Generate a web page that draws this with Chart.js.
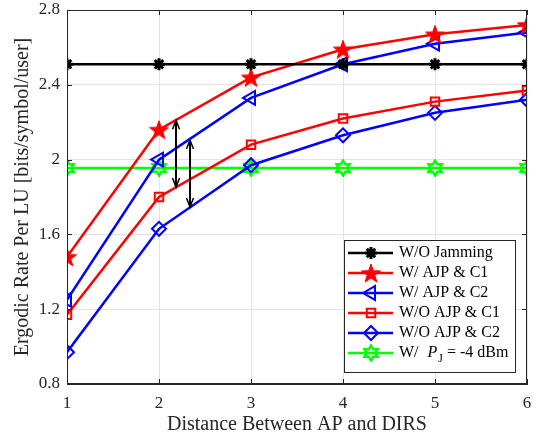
<!DOCTYPE html>
<html>
<head>
<meta charset="utf-8">
<script src="https://cdn.jsdelivr.net/npm/chart.js@4.4.1/dist/chart.umd.min.js"></script>
<style>
html,body{margin:0;padding:0;background:#fff;}
#wrap{width:539px;height:441px;}
</style>
</head>
<body>
<div id="wrap"><canvas id="c" width="539" height="441"></canvas></div>
<script>
// ---- data ----
const distances = [1, 2, 3, 4, 5, 6];
const woJamming = [2.51, 2.51, 2.51, 2.51, 2.51, 2.51];
const wAjpC1 = [1.48, 2.16, 2.44, 2.59, 2.67, 2.72];
const wAjpC2 = [1.25, 2.00, 2.33, 2.51, 2.62, 2.68];
const woAjpC1 = [1.17, 1.80, 2.08, 2.22, 2.31, 2.37];
const woAjpC2 = [0.97, 1.63, 1.97, 2.13, 2.25, 2.32];
const wPj = [1.955, 1.955, 1.955, 1.955, 1.955, 1.955];
const yTicks = [0.8, 1.2, 1.6, 2.0, 2.4, 2.8];
const xTicks = [1, 2, 3, 4, 5, 6];
const seriesLabels = ['W/O Jamming', 'W/ AJP & C1', 'W/ AJP & C2', 'W/O AJP & C1', 'W/O AJP & C2', 'W/  P_J = -4 dBm'];
// double arrows (x, top, bottom)
const arrowX = [2.185, 2.337];
const arrowTop = [2.21, 2.105];
const arrowBottom = [1.853, 1.747];

const FONT = "'Liberation Serif', 'Times New Roman', serif";
const TXT = '#262626';

function makeCanvas(size, draw) {
  const c = document.createElement('canvas');
  c.width = size; c.height = size;
  const g = c.getContext('2d');
  draw(g, size);
  return c;
}
const pentagram = makeCanvas(22, (g, s) => {
  const cx = s / 2, cy = s / 2 + 1, R = 10, r = 4;
  g.beginPath();
  for (let i = 0; i < 10; i++) {
    const rad = i % 2 === 0 ? R : r;
    const a = -Math.PI / 2 + i * Math.PI / 5;
    const x = cx + rad * Math.cos(a), y = cy + rad * Math.sin(a);
    i === 0 ? g.moveTo(x, y) : g.lineTo(x, y);
  }
  g.closePath();
  g.fillStyle = '#ff0000'; g.fill();
  g.strokeStyle = '#ff0000'; g.lineWidth = 1; g.stroke();
});
const hexagram = makeCanvas(18, (g, s) => {
  const cx = s / 2, cy = s / 2, R = 7.5, r = 4.33;
  g.beginPath();
  for (let i = 0; i < 12; i++) {
    const rad = i % 2 === 0 ? R : r;
    const a = -Math.PI / 2 + i * Math.PI / 6;
    const x = cx + rad * Math.cos(a), y = cy + rad * Math.sin(a);
    i === 0 ? g.moveTo(x, y) : g.lineTo(x, y);
  }
  g.closePath();
  g.strokeStyle = '#00ff00'; g.lineWidth = 2.5; g.stroke();
});

function pts(arr) { return distances.map((d, i) => ({ x: d, y: arr[i] })); }

const datasets = [
  { label: seriesLabels[0], data: pts(woJamming), borderColor: '#000000', backgroundColor: '#000000',
    pointStyle: 'star', pointRadius: 6, pointBorderWidth: 3, pointBorderColor: '#000', borderWidth: 2.5 },
  { label: seriesLabels[1], data: pts(wAjpC1), borderColor: '#ff0000', backgroundColor: '#ff0000',
    pointStyle: pentagram, borderWidth: 2.5 },
  { label: seriesLabels[2], data: pts(wAjpC2), borderColor: '#0000ff', backgroundColor: 'rgba(0,0,0,0)',
    pointStyle: 'triangle', pointRotation: -90, pointRadius: 8, pointBorderWidth: 2, pointBorderColor: '#0000ff', borderWidth: 2.5 },
  { label: seriesLabels[3], data: pts(woAjpC1), borderColor: '#ff0000', backgroundColor: 'rgba(0,0,0,0)',
    pointStyle: 'rect', pointRadius: 6, pointBorderWidth: 2, pointBorderColor: '#ff0000', borderWidth: 2.5 },
  { label: seriesLabels[4], data: pts(woAjpC2), borderColor: '#0000ff', backgroundColor: 'rgba(0,0,0,0)',
    pointStyle: 'rectRot', pointRadius: 7, pointBorderWidth: 2, pointBorderColor: '#0000ff', borderWidth: 2.5 },
  { label: seriesLabels[5], data: pts(wPj), borderColor: '#00ff00', backgroundColor: 'rgba(0,0,0,0)',
    pointStyle: hexagram, borderWidth: 2.5 }
];
datasets.forEach(d => { d.fill = false; d.tension = 0; d.pointHoverRadius = d.pointRadius; });

const framePlugin = {
  id: 'frame',
  afterDatasetsDraw(chart) {
    const { ctx, chartArea: a, scales: { x, y } } = chart;
    ctx.save();
    // arrows
    ctx.strokeStyle = '#000'; ctx.fillStyle = '#000'; ctx.lineWidth = 2;
    for (let i = 0; i < arrowX.length; i++) {
      const px = x.getPixelForValue(arrowX[i]);
      const t = y.getPixelForValue(arrowTop[i]);
      const b = y.getPixelForValue(arrowBottom[i]);
      ctx.beginPath(); ctx.moveTo(px, t + 1); ctx.lineTo(px, b - 1); ctx.stroke();
      ctx.lineWidth = 1.5;
      ctx.beginPath(); ctx.moveTo(px - 3.5, t + 9); ctx.lineTo(px, t); ctx.lineTo(px + 3.5, t + 9); ctx.stroke();
      ctx.beginPath(); ctx.moveTo(px - 3.5, b - 9); ctx.lineTo(px, b); ctx.lineTo(px + 3.5, b - 9); ctx.stroke();
      ctx.lineWidth = 2;
    }
    // frame
    ctx.strokeStyle = TXT; ctx.lineWidth = 1;
    ctx.strokeRect(Math.round(a.left) + 0.5, Math.round(a.top) + 0.5, Math.round(a.right - a.left) - 1, Math.round(a.bottom - a.top) - 1);
    // inward ticks
    const L = 5;
    xTicks.forEach(v => {
      const px = Math.round(x.getPixelForValue(v)) + 0.5;
      ctx.beginPath();
      ctx.moveTo(px, a.bottom); ctx.lineTo(px, a.bottom - L);
      ctx.moveTo(px, a.top); ctx.lineTo(px, a.top + L);
      ctx.stroke();
    });
    yTicks.forEach(v => {
      const py = Math.round(y.getPixelForValue(v)) + 0.5;
      ctx.beginPath();
      ctx.moveTo(a.left, py); ctx.lineTo(a.left + L, py);
      ctx.moveTo(a.right, py); ctx.lineTo(a.right - L, py);
      ctx.stroke();
    });
    // legend
    const bx = a.right - 183, by = a.bottom - 144, bw = 171, bh = 132;
    ctx.fillStyle = '#fff';
    ctx.fillRect(bx, by, bw, bh);
    ctx.strokeStyle = TXT; ctx.lineWidth = 1;
    ctx.strokeRect(bx + 0.5, by + 0.5, bw, bh);
    chart.data.datasets.forEach((ds, i) => {
      const meta = chart.getDatasetMeta(i);
      const ry = by + 13 + i * 20;
      const lx0 = bx + 4, lx1 = bx + 49, mx = bx + 27;
      ctx.strokeStyle = ds.borderColor; ctx.lineWidth = ds.borderWidth;
      ctx.beginPath(); ctx.moveTo(lx0, ry); ctx.lineTo(lx1, ry); ctx.stroke();
      const opts = meta.data[0].options;
      ctx.save();
      ctx.strokeStyle = opts.borderColor; ctx.fillStyle = opts.backgroundColor; ctx.lineWidth = opts.borderWidth;
      Chart.helpers.drawPoint(ctx, { pointStyle: opts.pointStyle, rotation: opts.rotation, radius: opts.radius, borderWidth: opts.borderWidth }, mx, ry);
      ctx.restore();
      ctx.fillStyle = '#000'; ctx.textBaseline = 'middle'; ctx.textAlign = 'left';
      const tx = bx + 55;
      if (ds.label.indexOf('P_J') >= 0) {
        ctx.font = '16px ' + FONT;
        ctx.fillText('W/', tx, ry);
        let cx = tx + ctx.measureText('W/').width + 9;
        ctx.font = 'italic 16px ' + FONT;
        ctx.fillText('P', cx, ry);
        cx += ctx.measureText('P').width + 1;
        ctx.font = '12px ' + FONT;
        ctx.fillText('J', cx, ry + 6);
        cx += ctx.measureText('J').width;
        ctx.font = '16px ' + FONT;
        ctx.fillText(' = -4 dBm', cx, ry);
      } else {
        ctx.font = '16px ' + FONT;
        ctx.fillText(ds.label, tx, ry);
      }
    });
    ctx.restore();
  }
};

new Chart(document.getElementById('c'), {
  type: 'line',
  data: { datasets },
  options: {
    responsive: false,
    animation: false,
    devicePixelRatio: 1,
    layout: { padding: { top: 10, right: 12, left: 0, bottom: 0 } },
    plugins: { legend: { display: false }, tooltip: { enabled: false } },
    scales: {
      x: {
        type: 'linear', min: 1, max: 6,
        afterBuildTicks: s => { s.ticks = xTicks.map(v => ({ value: v })); },
        afterFit: s => { s.height = 57; s.paddingLeft = 0; s.paddingRight = 0; },
        grid: { color: '#e3e3e3', drawTicks: false, lineWidth: 1 },
        border: { color: TXT, width: 1 },
        ticks: { color: TXT, padding: 9, font: { family: FONT, size: 17 }, callback: v => String(v) },
        title: { display: true, text: 'Distance Between AP and DIRS', color: TXT,
          font: { family: FONT, size: 20 }, padding: { top: 0, bottom: 4 } }
      },
      y: {
        type: 'linear', min: 0.8, max: 2.8,
        afterBuildTicks: s => { s.ticks = yTicks.map(v => ({ value: v })); },
        afterFit: s => { s.width = 67; s.paddingTop = 0; s.paddingBottom = 0; },
        grid: { color: '#e3e3e3', drawTicks: false, lineWidth: 1 },
        border: { color: TXT, width: 1 },
        ticks: { color: TXT, padding: 7, font: { family: FONT, size: 17 }, callback: v => String(+Number(v).toFixed(1)) },
        title: { display: true, text: 'Ergodic Rate Per LU [bits/symbol/user]', color: TXT,
          font: { family: FONT, size: 20 }, padding: { top: 11, bottom: 0 } }
      }
    }
  },
  plugins: [framePlugin]
});
</script>
</body>
</html>
